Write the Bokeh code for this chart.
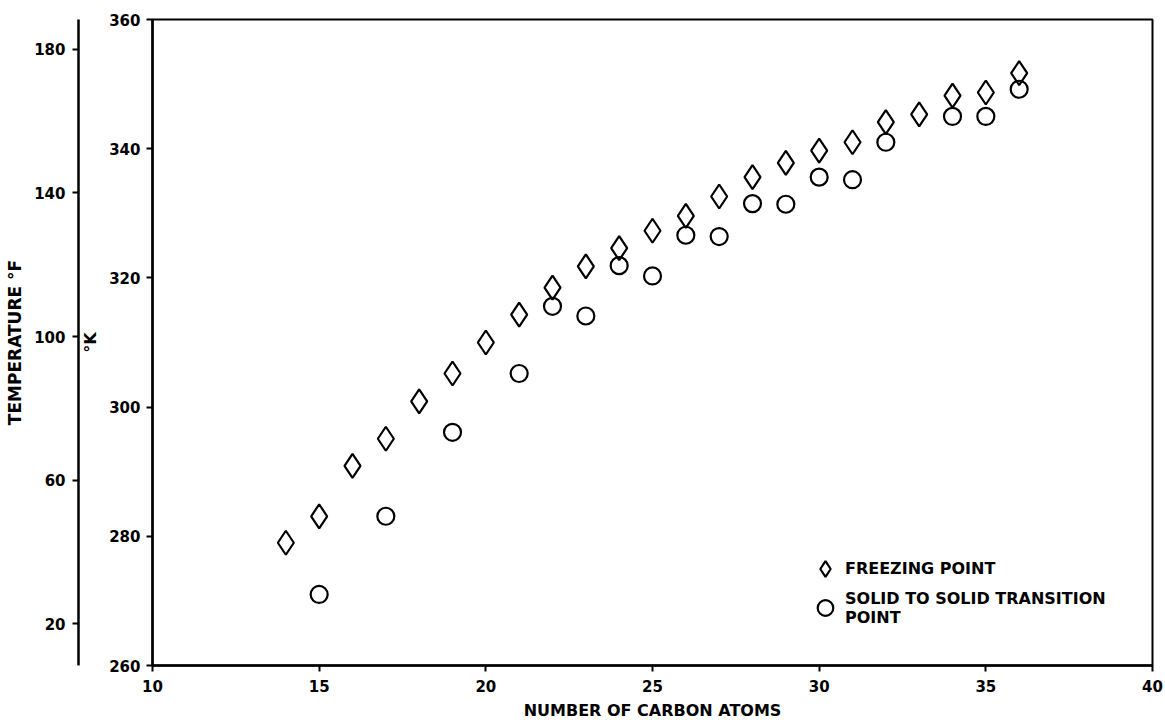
from bokeh.plotting import figure
from bokeh.models import LinearAxis, Range1d, FixedTicker, Legend, LegendItem
from bokeh.core.properties import value
from bokeh.embed import file_html
from bokeh.resources import INLINE

# ---- data ----
carbons_fp = [14, 15, 16, 17, 18, 19, 20, 21, 22, 23, 24, 25, 26, 27, 28, 29, 30, 31, 32, 33, 34, 35, 36]
freezing_K = [279.0, 283.1, 290.9, 295.1, 300.9, 305.2, 310.0, 314.3, 318.5, 321.8, 324.6, 327.3,
              329.6, 332.6, 335.6, 337.8, 339.7, 341.0, 344.1, 345.3, 348.2, 348.7, 351.7]

carbons_ss = [15, 17, 19, 21, 22, 23, 24, 25, 26, 27, 28, 29, 30, 31, 32, 34, 35, 36]
transition_K = [271.0, 283.1, 296.1, 305.2, 315.6, 314.1, 321.9, 320.3, 326.6, 326.4, 331.5,
                331.4, 335.6, 335.2, 341.0, 345.0, 345.0, 349.2]

x_ticks = [10, 15, 20, 25, 30, 35, 40]
k_ticks = [260, 280, 300, 320, 340, 360]
f_ticks = [20, 60, 100, 140, 180]

legend_labels = ["FREEZING POINT", "SOLID TO SOLID TRANSITION\nPOINT"]

K_MIN, K_MAX = 260, 360
def k_to_f(k):
    return (k - 273.15) * 9.0 / 5.0 + 32.0

FONT = "DejaVu Sans"

p = figure(width=1165, height=722,
           x_range=Range1d(10, 40), y_range=Range1d(K_MIN, K_MAX),
           output_backend="svg", toolbar_location=None,
           min_border_left=152, min_border_right=13,
           min_border_top=19, min_border_bottom=57)
p.extra_y_ranges = {"F": Range1d(k_to_f(K_MIN), k_to_f(K_MAX))}

p.grid.visible = False
p.outline_line_color = "black"
p.outline_line_width = 2
p.background_fill_color = "white"
p.border_fill_color = "white"

def style_axis(ax):
    ax.axis_line_color = "black"
    ax.axis_line_width = 2.5
    ax.major_tick_line_color = "black"
    ax.major_tick_line_width = 2
    ax.major_tick_out = 6
    ax.major_tick_in = 0
    ax.minor_tick_line_color = None
    ax.major_label_text_font = FONT
    ax.major_label_text_font_style = "bold"
    ax.major_label_text_font_size = "15px"
    ax.major_label_text_color = "black"
    ax.axis_label_text_font = FONT
    ax.axis_label_text_font_style = "bold"
    ax.axis_label_text_font_size = "16px"
    ax.axis_label_text_color = "black"

# x axis
xa = p.xaxis[0]
style_axis(xa)
xa.ticker = FixedTicker(ticks=x_ticks)
xa.axis_label = "NUMBER OF CARBON ATOMS"
xa.major_label_standoff = 8
xa.axis_label_standoff = 6

# inner (Kelvin) axis
ka = p.yaxis[0]
style_axis(ka)
ka.ticker = FixedTicker(ticks=k_ticks)
ka.axis_label = "°K"
ka.major_label_standoff = 6
ka.axis_label_standoff = 6

# outer (Fahrenheit) axis
fa = LinearAxis(y_range_name="F", ticker=FixedTicker(ticks=f_ticks), axis_label="TEMPERATURE °F")
style_axis(fa)
fa.axis_label_text_font_size = "17px"
fa.major_label_standoff = 7
fa.axis_label_standoff = 6
p.add_layout(fa, "left")

r_fp = p.scatter(carbons_fp, freezing_K, marker="diamond", size=24,
                 fill_color=None, line_color="black", line_width=2.2)
r_ss = p.scatter(carbons_ss, transition_K, marker="circle", size=17,
                 fill_color=None, line_color="black", line_width=2.2)

legend = Legend(items=[LegendItem(label=value(legend_labels[0]), renderers=[r_fp]),
                       LegendItem(label=value(legend_labels[1]), renderers=[r_ss])],
                location=(653, 38))
legend.border_line_color = None
legend.background_fill_alpha = 0
legend.padding = 0
legend.margin = 0
legend.spacing = 0
legend.glyph_width = 40
legend.glyph_height = 39
legend.label_standoff = 0
legend.label_text_font = FONT
legend.label_text_font_style = "bold"
legend.label_text_font_size = "16px"
legend.label_text_color = "black"
legend.label_text_line_height = 1.1
p.add_layout(legend)

open("out.html", "w").write(file_html(p, INLINE))
